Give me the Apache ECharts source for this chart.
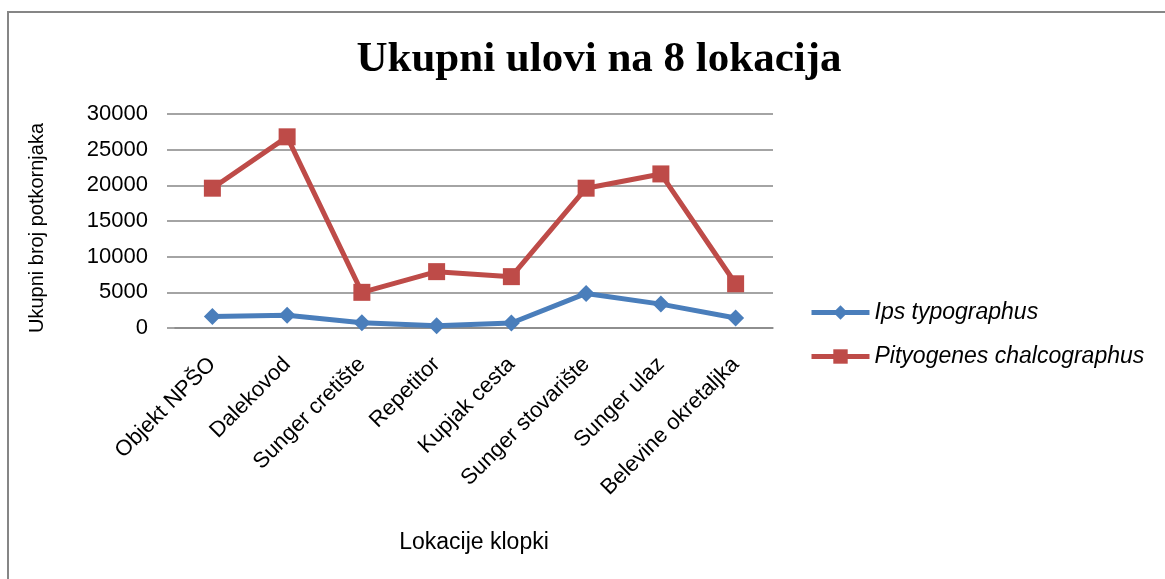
<!DOCTYPE html>
<html>
<head>
<meta charset="utf-8">
<script src="https://cdn.jsdelivr.net/npm/echarts@6/dist/echarts.min.js"></script>
<style>
  html, body { margin: 0; padding: 0; background: #fff; }
  #chart { width: 1165px; height: 579px; }
</style>
</head>
<body>
<div id="chart"></div>
<script>
const locations = ['Objekt NPŠO', 'Dalekovod', 'Sunger cretište', 'Repetitor', 'Kupjak cesta', 'Sunger stovarište', 'Sunger ulaz', 'Belevine okretaljka']
const ipsTypographus = [1600, 1800, 750, 300, 700, 4850, 3350, 1400]
const pityogenesChalcographus = [19600, 26800, 5000, 7900, 7200, 19600, 21600, 6200]

const AXIS_GREY = '#868686'
const FONT = '"Liberation Sans", Arial, sans-serif'

const chart = echarts.init(document.getElementById('chart'))

chart.setOption({
  animation: false,
  backgroundColor: '#fff',
  title: {
    text: 'Ukupni ulovi na 8 lokacija',
    left: 594,
    top: 33,
    textAlign: 'center',
    textStyle: { fontFamily: '"Liberation Serif", "Times New Roman", serif', fontWeight: 'bold', fontSize: 43, color: '#000' }
  },
  graphic: [{
    type: 'rect',
    shape: { x: 8, y: 12, width: 1180, height: 600 },
    style: { fill: 'none', stroke: AXIS_GREY, lineWidth: 2 },
    silent: true
  }],
  legend: {
    orient: 'vertical',
    left: 804,
    top: 296,
    itemWidth: 58,
    itemHeight: 18,
    itemGap: 21,
    lineStyle: { width: 5 },
    textStyle: { fontFamily: FONT, fontStyle: 'italic', fontSize: 23, color: '#000' },
    data: ['Ips typographus', 'Pityogenes chalcographus']
  },
  grid: { left: 175, right: 392, top: 114, bottom: 251 },
  xAxis: {
    type: 'category',
    data: locations,
    boundaryGap: true,
    name: 'Lokacije klopki',
    nameLocation: 'middle',
    nameGap: 203,
    nameTextStyle: { fontFamily: FONT, fontSize: 23, color: '#000' },
    axisLine: { lineStyle: { color: AXIS_GREY, width: 1.5 } },
    axisTick: { length: 7, lineStyle: { color: AXIS_GREY, width: 1.5 } },
    axisLabel: { rotate: 45, margin: 33, fontFamily: FONT, fontSize: 22, color: '#000', interval: 0 }
  },
  yAxis: {
    type: 'value',
    min: 0,
    max: 30000,
    interval: 5000,
    name: 'Ukupni broj potkornjaka',
    nameLocation: 'middle',
    nameGap: 128,
    nameTextStyle: { fontFamily: FONT, fontSize: 20, color: '#000', padding: [0, 14, 0, 0] },
    axisLine: { show: false },
    axisTick: { show: true, length: 8, lineStyle: { color: AXIS_GREY, width: 1.5 } },
    splitLine: { lineStyle: { color: AXIS_GREY, width: 1.5 } },
    axisLabel: { margin: 27, fontFamily: FONT, fontSize: 22, color: '#000', formatter: v => String(v) }
  },
  series: [
    {
      name: 'Ips typographus',
      type: 'line',
      data: ipsTypographus,
      symbol: 'diamond',
      symbolSize: 17,
      color: '#4A7EBB',
      lineStyle: { width: 5 },
      itemStyle: { color: '#4A7EBB' }
    },
    {
      name: 'Pityogenes chalcographus',
      type: 'line',
      data: pityogenesChalcographus,
      symbol: 'rect',
      symbolSize: 17,
      color: '#BE4B48',
      lineStyle: { width: 5 },
      itemStyle: { color: '#BE4B48' }
    }
  ]
})
</script>
</body>
</html>
